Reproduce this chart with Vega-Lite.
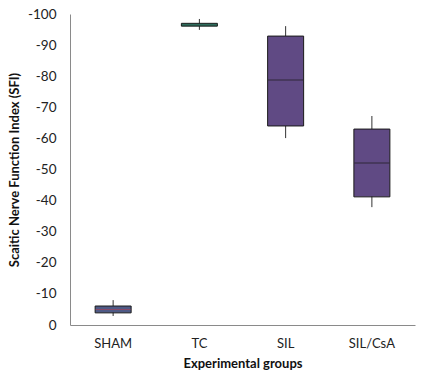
{
  "$schema": "https://vega.github.io/schema/vega-lite/v6.json",
  "autosize": "none",
  "width": 345,
  "height": 311,
  "padding": {"left": 70, "top": 14, "right": 6, "bottom": 57},
  "background": "white",
  "config": {
    "view": {"stroke": null},
    "font": "Lato",
    "axisY": {
      "labelOverlap": false,
      "labelFontSize": 13.5,
      "labelColor": "#222",
      "labelPadding": 14,
      "ticks": false,
      "grid": false,
      "domainColor": "#8a8a8a",
      "domainWidth": 1,
      "titleFontSize": 13,
      "titleFontWeight": "bold",
      "titleColor": "#111",
      "titlePadding": 6
    }
  },
  "data": {
    "values": [
      {"group": "SHAM", "lo": -2.9, "q1": -3.9, "med": -5.0, "q3": -6.1, "hi": -8.0},
      {"group": "TC", "lo": -94.9, "q1": -96.1, "med": -96.5, "q3": -97.0, "hi": -98.4},
      {"group": "SIL", "lo": -60.1, "q1": -64.0, "med": -78.8, "q3": -92.9, "hi": -96.1},
      {"group": "SIL/CsA", "lo": -37.9, "q1": -41.2, "med": -52.1, "q3": -63.0, "hi": -67.2}
    ]
  },
  "encoding": {
    "x": {
      "field": "group",
      "type": "nominal",
      "sort": ["SHAM", "TC", "SIL", "SIL/CsA"],
      "scale": {"paddingInner": 0, "paddingOuter": 0},
      "axis": {
        "title": "Experimental groups",
        "titleFont": "Lato",
        "titleFontSize": 13,
        "titleFontWeight": "bold",
        "titleColor": "#111",
        "titlePadding": 7,
        "labelAngle": 0,
        "labelFontSize": 13,
        "labelColor": "#222",
        "labelPadding": 12,
        "ticks": false,
        "domainColor": "#8a8a8a",
        "domainWidth": 1
      }
    }
  },
  "layer": [
    {
      "mark": {"type": "rule", "color": "#333", "strokeWidth": 1},
      "encoding": {
        "y": {
          "field": "lo",
          "type": "quantitative",
          "scale": {"domain": [0, -100]},
          "axis": {
            "title": "Scaitic Nerve Function Index (SFI)",
            "values": [0, -10, -20, -30, -40, -50, -60, -70, -80, -90, -100],
            "tickCount": 12,
            "labelExpr": "datum.value == 0 ? '0' : '-' + abs(datum.value)",
            "labelOverlap": false
          }
        },
        "y2": {"field": "hi"}
      }
    },
    {
      "mark": {"type": "bar", "size": 36, "stroke": "#1a1a1a", "strokeWidth": 1},
      "encoding": {
        "y": {"field": "q1", "type": "quantitative"},
        "y2": {"field": "q3"},
        "color": {
          "field": "group",
          "type": "nominal",
          "scale": {
            "domain": ["SHAM", "TC", "SIL", "SIL/CsA"],
            "range": ["#4f5a86", "#3a9a80", "#604a84", "#604a84"]
          },
          "legend": null
        }
      }
    },
    {
      "mark": {"type": "tick", "size": 35, "thickness": 1},
      "encoding": {
        "y": {"field": "med", "type": "quantitative"},
        "color": {
          "field": "group",
          "type": "nominal",
          "scale": {
            "domain": ["SHAM", "TC", "SIL", "SIL/CsA"],
            "range": ["#a0405a", "#1a1a1a", "#1a1a1a", "#1a1a1a"]
          },
          "legend": null
        }
      }
    }
  ],
  "resolve": {"scale": {"color": "independent"}}
}
